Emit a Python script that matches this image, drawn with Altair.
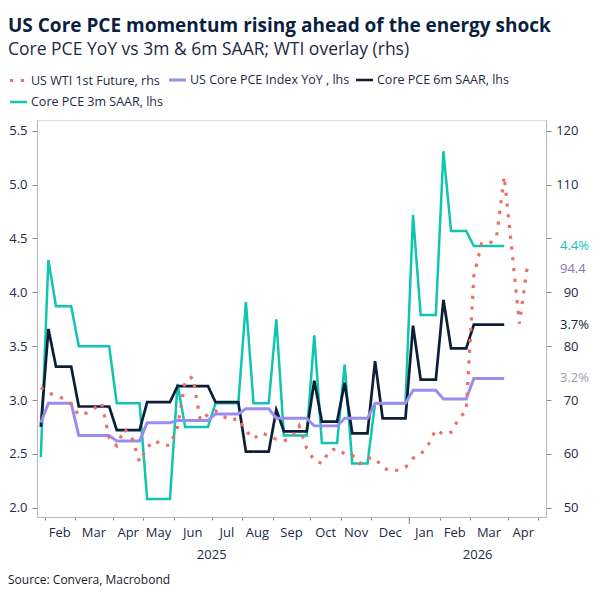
import altair as alt
import pandas as pd

# ---------------- data ----------------
first_obs = "2025-01-27"  # first weekly observation (Mondays)

series_names = ["US WTI 1st Future, rhs", "US Core PCE Index YoY , lhs",
                "Core PCE 6m SAAR, lhs", "Core PCE 3m SAAR, lhs"]
series_colors = ["#e8716a", "#9b8cf2", "#0d1f36", "#0fc5b0"]

core_pce_3m = [2.47, 4.30, 3.87, 3.87, 3.87, 3.50, 3.50, 3.50, 3.50, 3.50,
               2.97, 2.97, 2.97, 2.97, 2.08, 2.08, 2.08, 2.08, 3.15, 2.75,
               2.75, 2.75, 2.75, 2.97, 2.97, 2.97, 2.97, 3.91, 2.97, 2.97,
               2.97, 3.75, 2.67, 2.67, 2.67, 2.67, 3.60, 2.60, 2.60, 2.60,
               3.33, 2.41, 2.41, 2.41, 2.97, 2.97, 2.97, 2.97, 2.97, 4.72,
               3.79, 3.79, 3.79, 5.31, 4.57, 4.57, 4.57, 4.43, 4.43, 4.43,
               4.43, 4.43]

core_pce_6m = [2.75, 3.66, 3.31, 3.31, 3.31, 2.94, 2.94, 2.94, 2.94, 2.94,
               2.72, 2.72, 2.72, 2.72, 2.98, 2.98, 2.98, 2.98, 3.13, 3.13,
               3.13, 3.13, 3.13, 2.98, 2.98, 2.98, 2.98, 2.52, 2.52, 2.52,
               2.52, 2.91, 2.71, 2.71, 2.71, 2.71, 3.18, 2.80, 2.80, 2.80,
               3.16, 2.69, 2.69, 2.69, 3.36, 2.83, 2.83, 2.83, 2.83, 3.69,
               3.19, 3.19, 3.19, 3.93, 3.48, 3.48, 3.48, 3.70, 3.70, 3.70,
               3.70, 3.70]

core_pce_yoy = [2.79, 2.97, 2.97, 2.97, 2.97, 2.67, 2.67, 2.67, 2.67, 2.67,
                2.62, 2.62, 2.62, 2.62, 2.79, 2.79, 2.79, 2.79, 2.81, 2.81,
                2.81, 2.81, 2.81, 2.87, 2.87, 2.87, 2.87, 2.92, 2.92, 2.92,
                2.92, 2.83, 2.83, 2.83, 2.83, 2.83, 2.76, 2.76, 2.76, 2.76,
                2.83, 2.83, 2.83, 2.83, 2.97, 2.97, 2.97, 2.97, 2.97, 3.09,
                3.09, 3.09, 3.09, 3.01, 3.01, 3.01, 3.01, 3.20, 3.20, 3.20,
                3.20, 3.20]

wti_front = [72.3, 71.4, 70.7, 70.3, 69.2, 67.2, 67.6, 68.4, 69.5, 63.0,
             61.5, 64.6, 63.0, 58.5, 61.2, 62.5, 61.6, 61.6, 65.0, 73.5,
             74.3, 66.2, 67.3, 68.0, 67.0, 66.2, 66.6, 64.3, 62.8, 63.9,
             63.4, 62.7, 62.4, 63.0, 65.2, 61.0, 58.8, 58.2, 60.6, 61.0,
             60.0, 59.8, 58.2, 59.2, 59.2, 57.5, 56.8, 57.0, 57.5, 59.2,
             59.9, 61.7, 64.5, 63.6, 64.0, 66.5, 68.0, 93.0, 99.0, 98.9,
             100.4, 111.5, 98.0, 84.2, 94.4]

month_labels = ["Feb", "Mar", "Apr", "May", "Jun", "Jul", "Aug", "Sep",
                "Oct", "Nov", "Dec", "Jan", "Feb", "Mar", "Apr"]
year_labels = ["2025", "2026"]
left_ticks = [2.0, 2.5, 3.0, 3.5, 4.0, 4.5, 5.0, 5.5]
right_ticks = [50, 60, 70, 80, 90, 100, 110, 120]
source_text = "Source: Convera, Macrobond"
title_text = "US Core PCE momentum rising ahead of the energy shock"
subtitle_text = "Core PCE YoY vs 3m & 6m SAAR; WTI overlay (rhs)"

# ---------------- derived tables ----------------
t0 = pd.Timestamp(first_obs)
X_MIN, X_MAX = -0.5, 66.5


def week_boundary(day):
    """Axis position of the boundary before the first weekly obs on/after day."""
    day = pd.Timestamp(day)
    first_mon = day + pd.Timedelta(days=(7 - day.weekday()) % 7)
    return (first_mon - t0).days / 7 - 0.5


month_starts = pd.date_range("2025-02-01", "2026-05-01", freq="MS")
bounds = [week_boundary(d) for d in month_starts]
months_df = pd.DataFrame({
    "mid": [(bounds[i] + bounds[i + 1]) / 2 for i in range(len(month_labels))],
    "label": month_labels,
})
year_pos = []
for y in year_labels:
    a = week_boundary(f"{y}-01-01")
    b = week_boundary(f"{int(y) + 1}-01-01")
    m = (a + b) / 2
    if m > X_MAX:
        m = (max(a, X_MIN) + X_MAX) / 2
    year_pos.append(m)
years_df = pd.DataFrame({"pos": year_pos, "label": year_labels})
jan_df = pd.DataFrame({"pos": [week_boundary("2026-01-01")]})


def frame(vals, name):
    return pd.DataFrame({"wk": list(range(len(vals))), "value": vals,
                         "date": pd.date_range(t0, periods=len(vals), freq="7D"),
                         "series": name})


pce_df = pd.concat([frame(core_pce_3m, series_names[3]),
                    frame(core_pce_6m, series_names[2]),
                    frame(core_pce_yoy, series_names[1])], ignore_index=True)
wti_df = frame(wti_front, series_names[0])

pce_end = pd.DataFrame({
    "value": [core_pce_3m[-1], core_pce_6m[-1], core_pce_yoy[-1]],
    "text": [f"{core_pce_3m[-1]:.1f}%", f"{core_pce_6m[-1]:.1f}%", f"{core_pce_yoy[-1]:.1f}%"],
    "col": ["#0fc5b0", "#0d1f36", "#9d9daa"],
})
wti_end = pd.DataFrame({"value": [wti_front[-1]], "text": [f"{wti_front[-1]:.1f}"],
                        "col": ["#8e72b8"]})

# ---------------- styling ----------------
W, H = 509, 397
FONT = "Open Sans"
NAVY = "#1b2a47"

x_scale = alt.Scale(domain=[X_MIN, X_MAX], nice=False, zero=False)
x_axis = alt.Axis(values=bounds, labels=False, title=None, grid=False,
                  tickSize=3, tickColor="#8a8a8a", domainColor="#b8b8b8")
yl_scale = alt.Scale(domain=[1.914, 5.6], nice=False, zero=False)
yr_scale = alt.Scale(domain=[48.28, 122.0], nice=False, zero=False)

color_scale = alt.Scale(domain=series_names, range=series_colors)
dash_scale = alt.Scale(domain=series_names, range=[[3.2, 7.6], [1, 0], [1, 0], [1, 0]])
width_scale = alt.Scale(domain=series_names, range=[3.2, 2.5, 3.6, 3.6])

legend = alt.Legend(title=None, orient="none", legendX=-29, legendY=-50,
                    direction="horizontal", columns=3, gridAlign="none",
                    symbolType="stroke", symbolSize=289, symbolStrokeWidth=3.4,
                    labelFont=FONT, labelFontSize=12.5, labelColor=NAVY,
                    labelOffset=2, columnPadding=0, rowPadding=5, labelLimit=400)

enc_common = dict(
    color=alt.Color("series:N", scale=color_scale, legend=legend),
    strokeDash=alt.StrokeDash("series:N", scale=dash_scale, legend=legend),
    strokeWidth=alt.StrokeWidth("series:N", scale=width_scale, legend=None),
)

pce_lines = alt.Chart(pce_df).mark_line(strokeJoin="miter").encode(
    x=alt.X("wk:Q", scale=x_scale, axis=x_axis),
    y=alt.Y("value:Q", scale=yl_scale,
            axis=alt.Axis(values=left_ticks, format=".1f", title=None, grid=False,
                          tickSize=5, tickColor="#8a8a8a", domainColor="#b8b8b8",
                          labelPadding=5, labelFont=FONT, labelFontSize=13,
                          labelColor=NAVY)),
    order="wk:Q",
    **enc_common,
)

pce_labels = alt.Chart(pce_end).mark_text(align="left", baseline="middle",
                                          font=FONT, fontSize=13).encode(
    x=alt.value(W + 14), y=alt.Y("value:Q", scale=yl_scale),
    text="text:N", color=alt.Color("col:N", scale=None))

month_text = alt.Chart(months_df).mark_text(baseline="middle", font=FONT,
                                            fontSize=13, color=NAVY).encode(
    x=alt.X("mid:Q", scale=x_scale, axis=x_axis), y=alt.value(H + 16), text="label:N")

year_text = alt.Chart(years_df).mark_text(baseline="middle", font=FONT,
                                          fontSize=13, color=NAVY).encode(
    x=alt.X("pos:Q", scale=x_scale, axis=x_axis), y=alt.value(H + 38), text="label:N")

jan_tick = alt.Chart(jan_df).mark_rule(color="#8a8a8a", strokeWidth=1).encode(
    x=alt.X("pos:Q", scale=x_scale, axis=x_axis), y=alt.value(H), y2=alt.value(H + 7))

src = alt.Chart(pd.DataFrame({"t": [source_text]})).mark_text(
    align="left", baseline="middle", font=FONT, fontSize=12, color="#1a1a2a").encode(
    x=alt.value(-29), y=alt.value(H + 63), text="t:N")

wti_line = alt.Chart(wti_df).mark_line(strokeCap="butt").encode(
    x=alt.X("wk:Q", scale=x_scale, axis=x_axis),
    y=alt.Y("value:Q", scale=yr_scale,
            axis=alt.Axis(orient="right", values=right_ticks, title=None, grid=False,
                          tickSize=5, tickColor="#8a8a8a", domainColor="#b8b8b8",
                          labelAlign="right", labelPadding=27, labelFont=FONT,
                          labelFontSize=13, labelColor=NAVY,
                          labelExpr="datum.value == 100 ? '' : datum.label")),
    order="wk:Q",
    **enc_common,
)

wti_label = alt.Chart(wti_end).mark_text(align="left", baseline="middle",
                                         font=FONT, fontSize=13).encode(
    x=alt.value(W + 14), y=alt.Y("value:Q", scale=yr_scale),
    text="text:N", color=alt.Color("col:N", scale=None))

left = alt.layer(pce_lines, pce_labels, month_text, year_text, jan_tick, src)
right = alt.layer(wti_line, wti_label)

chart = alt.layer(left, right).resolve_scale(y="independent").properties(
    width=W, height=H,
    autosize=alt.AutoSizeParams(type="none"),
    padding={"left": 37, "top": 120, "right": 55, "bottom": 84},
    title=alt.TitleParams(text=title_text, subtitle=subtitle_text, anchor="start",
                          frame="group", dx=-29, offset=12, font=FONT, fontSize=19,
                          fontWeight="bold", color="#0b1f3f", subtitleFont=FONT,
                          subtitleFontSize=17.5, subtitleColor=NAVY, subtitlePadding=5),
).configure_view(stroke=None).configure(background="white")

chart.save("out.html", embed_options={"renderer": "svg", "actions": False})
